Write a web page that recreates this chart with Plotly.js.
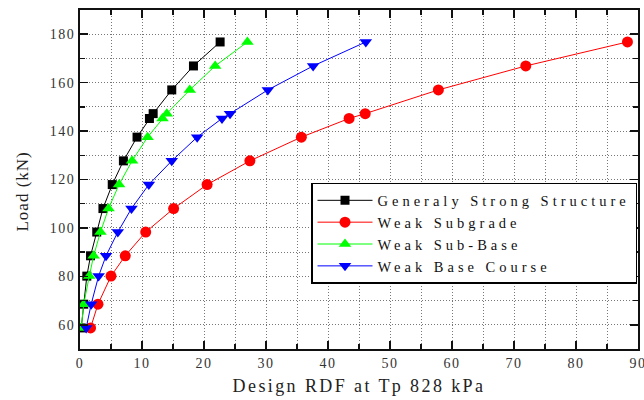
<!DOCTYPE html>
<html>
<head>
<meta charset="utf-8">
<script src="https://cdn.plot.ly/plotly-3.0.1.min.js"></script>
<style>
html,body{margin:0;padding:0;background:#fff;}
#chart{width:644px;height:400px;}
text.legendtext{letter-spacing:4px;}
text.xtitle{letter-spacing:2.4px;}
g.annotation-text-g text{letter-spacing:1px;}
g.xtick text, g.ytick text{letter-spacing:1.5px;}
</style>
</head>
<body>
<div id="chart"></div>
<script>
const loads = [58.7, 68.5, 80.1, 88.5, 98.3, 108, 117.9, 127.7, 137.5, 145.2, 147.2, 157, 166.9, 176.8];
const strongX = [0.2, 0.6, 1.1, 1.7, 2.7, 3.7, 5.2, 7.0, 9.2, 11.2, 11.8, 14.8, 18.3, 22.6];
const subgradeX = [1.7, 2.9, 5.0, 7.3, 10.6, 15.1, 20.5, 27.4, 35.7, 43.4, 46.0, 57.8, 71.9, 88.3];
const subBaseX = [0.2, 0.6, 1.5, 2.2, 3.3, 4.6, 6.3, 8.4, 10.9, 13.3, 14.0, 17.7, 21.8, 27.0];
const baseCourseX = [1.0, 1.8, 3.0, 4.2, 6.1, 8.3, 11.1, 14.8, 18.9, 22.9, 24.2, 30.3, 37.6, 46.1];
const seriesNames = ["Generaly Strong Structure", "Weak Subgrade", "Weak Sub-Base", "Weak Base Course"];
const yTitle = "Load (kN)";
const xTitle = "Design RDF at Tp 828 kPa";
const colors = ["#000000", "#ff0000", "#00ff00", "#0000ff"];
const symbols = ["square", "circle", "triangle-up", "triangle-down"];
const xs = [strongX, subgradeX, subBaseX, baseCourseX];

const traces = xs.map((x, i) => ({
  x: x, y: loads, name: seriesNames[i], type: "scatter", mode: "lines+markers",
  line: {color: colors[i], width: 1},
  marker: {color: colors[i], symbol: symbols[i], size: i === 0 ? 9 : 11}
}));

const serif = "Liberation Serif, Times New Roman, serif";
const grid = {gridcolor: "#777", griddash: "1px,2px", gridwidth: 1};
const layout = {
  width: 644, height: 400,
  margin: {l: 80, r: 6, t: 10, b: 51},
  paper_bgcolor: "#fff", plot_bgcolor: "#fff",
  showlegend: true,
  legend: {x: 0.414, y: 0.49, xanchor: "left", yanchor: "top",
           bgcolor: "#fff", bordercolor: "#000", borderwidth: 1.5, itemwidth: 55,
           font: {family: serif, size: 14.5, color: "#111"}, tracegroupgap: 0},
  xaxis: Object.assign({
    range: [0, 90], dtick: 10, tick0: 0,
    showline: true, linecolor: "#111", linewidth: 2, mirror: "allticks",
    ticks: "inside", ticklen: 8, tickwidth: 1.5, tickcolor: "#111",
    showgrid: true, ticklabeloverflow: "allow",
    minor: Object.assign({dtick: 5, ticks: "inside", ticklen: 5, tickcolor: "#111", showgrid: true}, grid),
    zeroline: false,
    tickfont: {family: serif, size: 14, color: "#333"},
    title: {text: xTitle, font: {family: serif, size: 18, color: "#222"}, standoff: 10}
  }, grid),
  yaxis: Object.assign({
    range: [50, 190], dtick: 20, tick0: 0,
    showline: true, linecolor: "#111", linewidth: 2, mirror: "allticks",
    ticks: "inside", ticklen: 8, tickwidth: 1.5, tickcolor: "#111",
    showgrid: true,
    minor: Object.assign({dtick: 10, ticks: "inside", ticklen: 5, tickcolor: "#111", showgrid: true}, grid),
    zeroline: false,
    tickfont: {family: serif, size: 14, color: "#333"}
  }, grid),
  annotations: [{
    text: yTitle, xref: "paper", yref: "paper", x: -58 / 558, y: 0.463,
    xanchor: "center", yanchor: "middle", textangle: -90, showarrow: false,
    font: {family: serif, size: 17, color: "#222"}
  }]
};
Plotly.newPlot("chart", traces, layout, {displayModeBar: false, staticPlot: true});
</script>
</body>
</html>
